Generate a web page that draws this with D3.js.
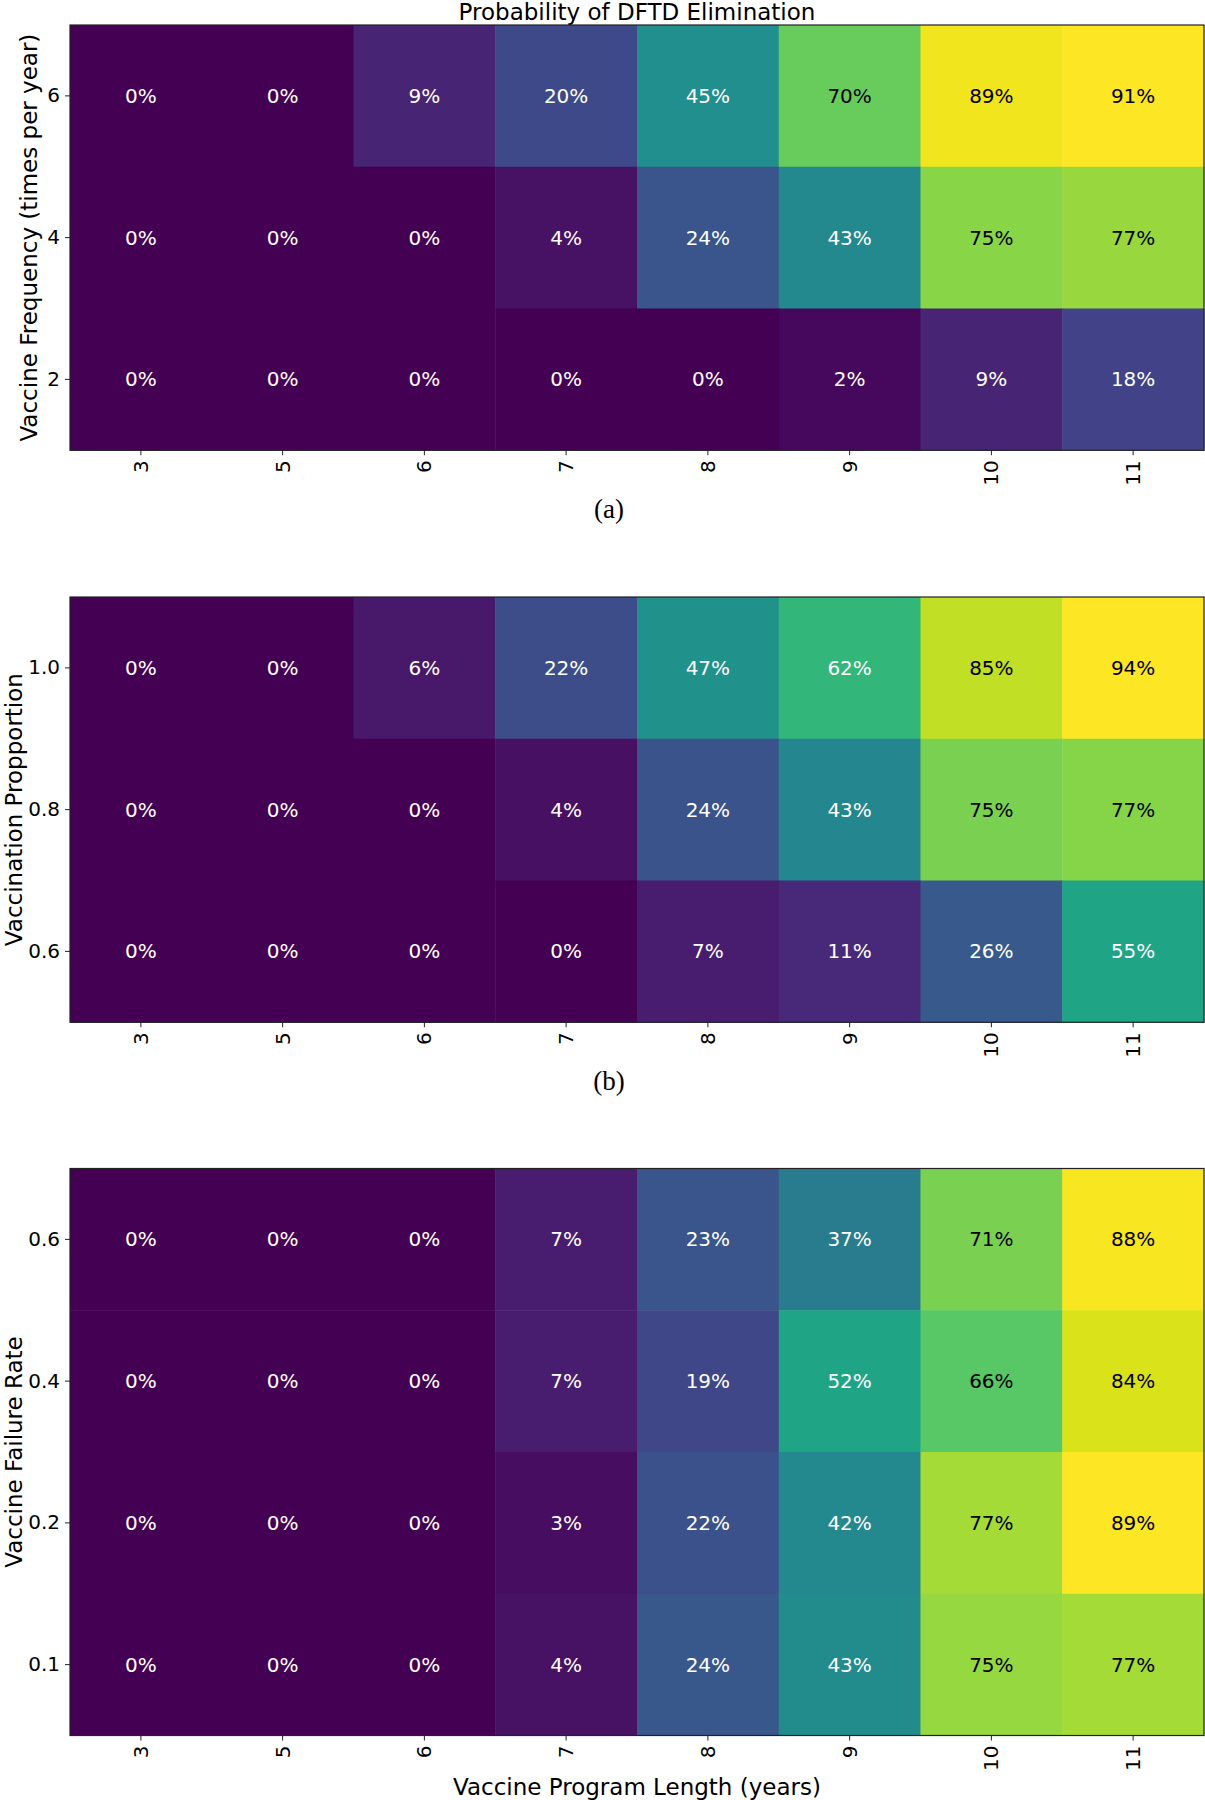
<!DOCTYPE html>
<html>
<head>
<meta charset="utf-8">
<script src="https://cdn.jsdelivr.net/npm/d3@7"></script>
<style>
  body { margin: 0; background: #fff; }
  svg { display: block; }
  text { font-family: "DejaVu Sans", sans-serif; }
</style>
</head>
<body>
<svg id="chart" width="1205" height="1800"></svg>
<script>
// ---- data ----
const programYears = ["3", "5", "6", "7", "8", "9", "10", "11"];

const frequencyLabels = ["6", "4", "2"];
const frequencyValues = [
  [0, 0, 9, 20, 45, 70, 89, 91],
  [0, 0, 0, 4, 24, 43, 75, 77],
  [0, 0, 0, 0, 0, 2, 9, 18]
];

const proportionLabels = ["1.0", "0.8", "0.6"];
const proportionValues = [
  [0, 0, 6, 22, 47, 62, 85, 94],
  [0, 0, 0, 4, 24, 43, 75, 77],
  [0, 0, 0, 0, 7, 11, 26, 55]
];

const failureLabels = ["0.6", "0.4", "0.2", "0.1"];
const failureValues = [
  [0, 0, 0, 7, 23, 37, 71, 88],
  [0, 0, 0, 7, 19, 52, 66, 84],
  [0, 0, 0, 3, 22, 42, 77, 89],
  [0, 0, 0, 4, 24, 43, 75, 77]
];

const titleText = "Probability of DFTD Elimination";
const xAxisTitle = "Vaccine Program Length (years)";

// ---- layout ----
const svg = d3.select("#chart");
const left = 70, right = 1204;
const cell = (right - left) / programYears.length;

const x = d3.scaleBand().domain(programYears).range([left, right]).padding(0);

function panel(top, rowLabels, values, yTitle, yTitleX, caption, captionY, showXTitle) {
  const g = svg.append("g");
  const bottom = top + cell * rowLabels.length;
  const y = d3.scaleBand().domain(rowLabels).range([top, bottom]).padding(0);
  const vmax = d3.max(values.flat());
  const color = d3.scaleSequential(d3.interpolateViridis).domain([0, vmax]);

  const cells = [];
  values.forEach((row, i) => row.forEach((v, j) => cells.push({ r: rowLabels[i], c: programYears[j], v })));

  g.selectAll("rect.cell").data(cells).join("rect")
    .attr("class", "cell")
    .attr("x", d => x(d.c))
    .attr("y", d => y(d.r))
    .attr("width", x.bandwidth() + 0.5)
    .attr("height", y.bandwidth() + 0.5)
    .attr("fill", d => color(d.v));

  g.selectAll("text.ann").data(cells).join("text")
    .attr("class", "ann")
    .attr("x", d => x(d.c) + x.bandwidth() / 2)
    .attr("y", d => y(d.r) + y.bandwidth() / 2)
    .attr("text-anchor", "middle")
    .attr("dominant-baseline", "central")
    .attr("font-size", 20)
    .attr("fill", d => (d.v / vmax > 0.7 ? "#000" : "#fff"))
    .text(d => d.v + "%");

  // frame
  g.append("rect")
    .attr("x", left).attr("y", top)
    .attr("width", right - left).attr("height", bottom - top)
    .attr("fill", "none").attr("stroke", "#222").attr("stroke-width", 1.2);

  // y axis
  const ya = g.append("g").attr("transform", `translate(${left},0)`)
    .call(d3.axisLeft(y).tickSize(5).tickPadding(5));
  ya.select(".domain").remove();
  ya.selectAll(".tick line").attr("stroke", "#222");
  ya.selectAll(".tick text").attr("font-size", 20).attr("fill", "#000")
    .attr("font-family", "DejaVu Sans");

  // x axis
  const xa = g.append("g").attr("transform", `translate(0,${bottom})`)
    .call(d3.axisBottom(x).tickSize(5).tickPadding(5));
  xa.select(".domain").remove();
  xa.selectAll(".tick line").attr("stroke", "#222");
  xa.selectAll(".tick text")
    .attr("font-size", 20).attr("fill", "#000").attr("font-family", "DejaVu Sans")
    .attr("text-anchor", "end")
    .attr("dy", null)
    .attr("y", 0)
    .attr("dominant-baseline", "central")
    .attr("transform", "translate(0,10) rotate(-90)");

  // y title
  g.append("text")
    .attr("transform", `translate(${yTitleX},${(top + bottom) / 2}) rotate(-90)`)
    .attr("text-anchor", "middle")
    .attr("font-size", 23)
    .text(yTitle);

  if (caption) {
    g.append("text")
      .attr("x", 609).attr("y", captionY)
      .attr("text-anchor", "middle")
      .style("font-family", "'Liberation Serif', serif")
      .attr("font-size", 27)
      .text(caption);
  }
  if (showXTitle) {
    g.append("text")
      .attr("x", (left + right) / 2).attr("y", 1795)
      .attr("text-anchor", "middle")
      .attr("font-size", 23)
      .text(xAxisTitle);
  }
}

svg.append("text")
  .attr("x", (left + right) / 2).attr("y", 19.5)
  .attr("text-anchor", "middle")
  .attr("font-size", 23)
  .text(titleText);

panel(25, frequencyLabels, frequencyValues, "Vaccine Frequency (times per year)", 37, "(a)", 518, false);
panel(597, proportionLabels, proportionValues, "Vaccination Propportion", 21.5, "(b)", 1090, false);
panel(1168.5, failureLabels, failureValues, "Vaccine Failure Rate", 21.5, null, 0, true);
</script>
</body>
</html>
